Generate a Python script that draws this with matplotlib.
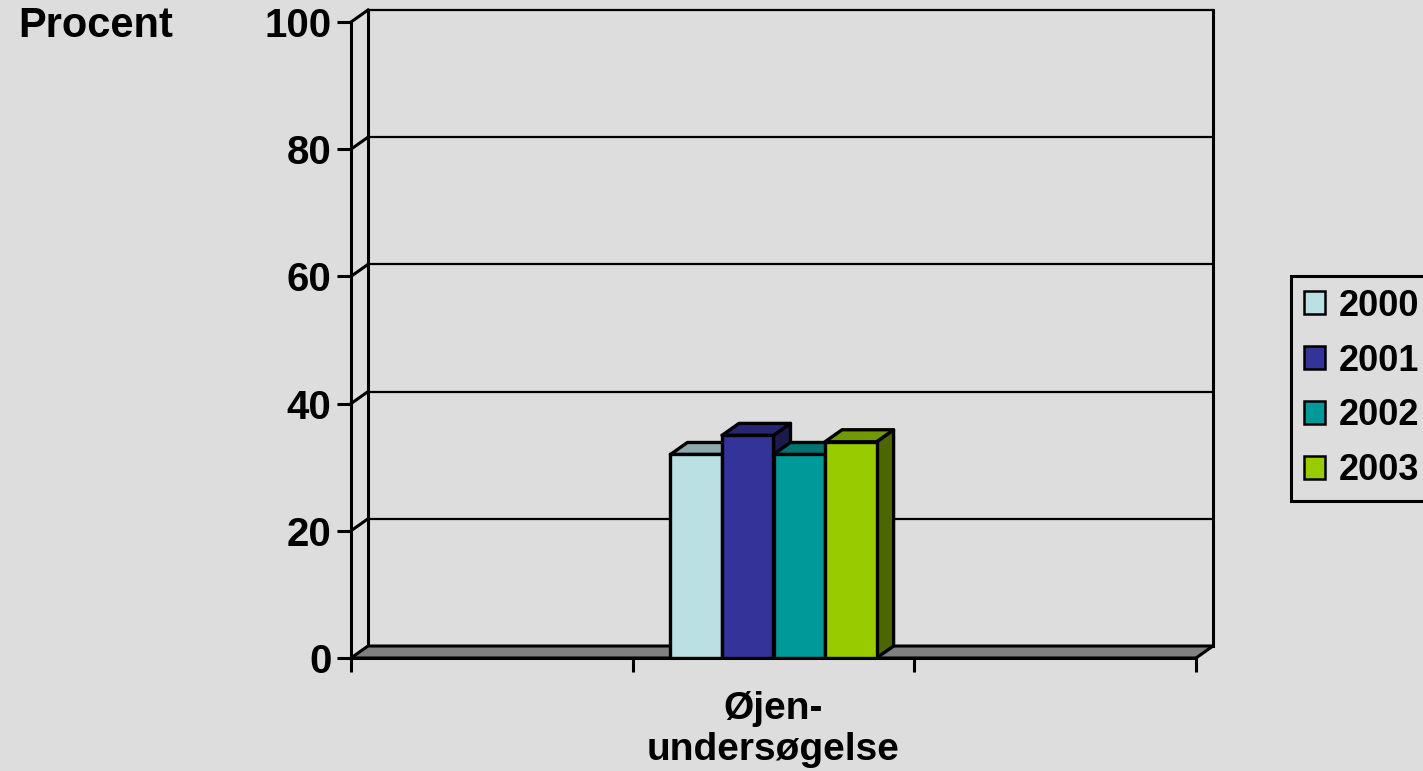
import matplotlib
matplotlib.use('Agg')
import matplotlib.pyplot as plt
from matplotlib.patches import Polygon, Patch
import matplotlib.colors as mcolors

# Données
categorie = 'Øjen-\nundersøgelse'
annees = ['2000', '2001', '2002', '2003']
valeurs = [32, 35, 32, 34]
couleurs = ['#BBE0E3', '#333399', '#009999', '#99CC00']
yticks = [0, 20, 40, 60, 80, 100]

plt.rcParams['font.family'] = ['Liberation Sans', 'DejaVu Sans']
plt.rcParams['font.weight'] = 'bold'
fs = 29
fond = '#DDDDDD'

W, H = 1423, 771
fig = plt.figure(figsize=(W / 100, H / 100), dpi=100, facecolor=fond)
ax = fig.add_axes([351 / W, (H - 658) / H, (1196 - 351) / W, (658 - 22) / H])
ax.set_facecolor('none')
ax.set_xlim(0, 3)
ax.set_ylim(0, 100)
for s in ax.spines.values():
    s.set_visible(False)

# profondeur 3D (en unités de données)
dx = 17 / (1196 - 351) * 3
dy = 12 / (658 - 22) * 100

# mur du fond et grille
for v in yticks[1:]:
    ax.plot([dx, 3 + dx], [v + dy, v + dy], color='black', lw=1.6, clip_on=False, zorder=1)
    ax.plot([0, dx], [v, v + dy], color='black', lw=2.2, clip_on=False, zorder=1)
ax.plot([dx, dx], [dy, 100 + dy], color='black', lw=2.2, clip_on=False, zorder=1)
ax.plot([3 + dx, 3 + dx], [dy, 100 + dy], color='black', lw=2.2, clip_on=False, zorder=1)
ax.plot([0, 0], [0, 100], color='black', lw=2.2, clip_on=False, zorder=1)

# sol
ax.add_patch(Polygon([(0, 0), (3, 0), (3 + dx, dy), (dx, dy)], closed=True,
                     facecolor='#808080', edgecolor='black', lw=2.2, clip_on=False, zorder=2,
                     joinstyle='round'))

# barres
largeur = 0.183
centre = 1.5
x0 = centre - largeur * len(valeurs) / 2
for i, (v, c) in enumerate(zip(valeurs, couleurs)):
    xl = x0 + i * largeur
    xr = xl + largeur
    rgb = mcolors.to_rgb(c)
    haut = tuple(k * 0.75 for k in rgb)
    cote = tuple(k * 0.5 for k in rgb)
    z = 3 + i
    ax.add_patch(Polygon([(xr, 0), (xr + dx, dy), (xr + dx, v + dy), (xr, v)], closed=True,
                         facecolor=cote, edgecolor='black', lw=2.4, zorder=z, clip_on=False,
                         joinstyle='round'))
    ax.add_patch(Polygon([(xl, v), (xr, v), (xr + dx, v + dy), (xl + dx, v + dy)], closed=True,
                         facecolor=haut, edgecolor='black', lw=2.4, zorder=z, clip_on=False,
                         joinstyle='round'))
    ax.bar(xl, v, width=largeur, align='edge', color=c, edgecolor='black', lw=2.4, zorder=z + 0.5)

# axes
ax.set_yticks(yticks)
ax.set_yticklabels([str(t) for t in yticks], fontsize=fs, fontweight='bold')
ax.tick_params(axis='y', length=10, width=2.2, pad=4)
ax.set_xticks([centre])
ax.set_xticklabels([categorie], fontsize=28, fontweight='bold', linespacing=1.15)
ax.tick_params(axis='x', length=0, pad=24)
ax.set_xticks([0, 1, 2, 3], minor=True)
ax.tick_params(axis='x', which='minor', length=10, width=2.2, direction='out')
ax.plot([0, 3], [0, 0], color='black', lw=2.2, clip_on=False, zorder=10)

fig.text(18 / W, 1 - 26 / H, 'Procent', fontsize=30, fontweight='bold', va='center', ha='left')

# légende
poignees = [Patch(facecolor=c, edgecolor='black', lw=1.8) for c in couleurs]
leg = fig.legend(poignees, annees, loc='upper left', bbox_to_anchor=(1291 / W, 1 - 276 / H),
                 prop={'size': 26, 'weight': 'bold'}, frameon=True, fancybox=False,
                 edgecolor='black', facecolor=fond, framealpha=1,
                 handlelength=0.6, handleheight=0.6,
                 handletextpad=0.38, labelspacing=0.55, borderpad=0.35, borderaxespad=0)
leg.get_frame().set_linewidth(2.2)

fig.savefig('out.png', dpi=100, facecolor=fond)
